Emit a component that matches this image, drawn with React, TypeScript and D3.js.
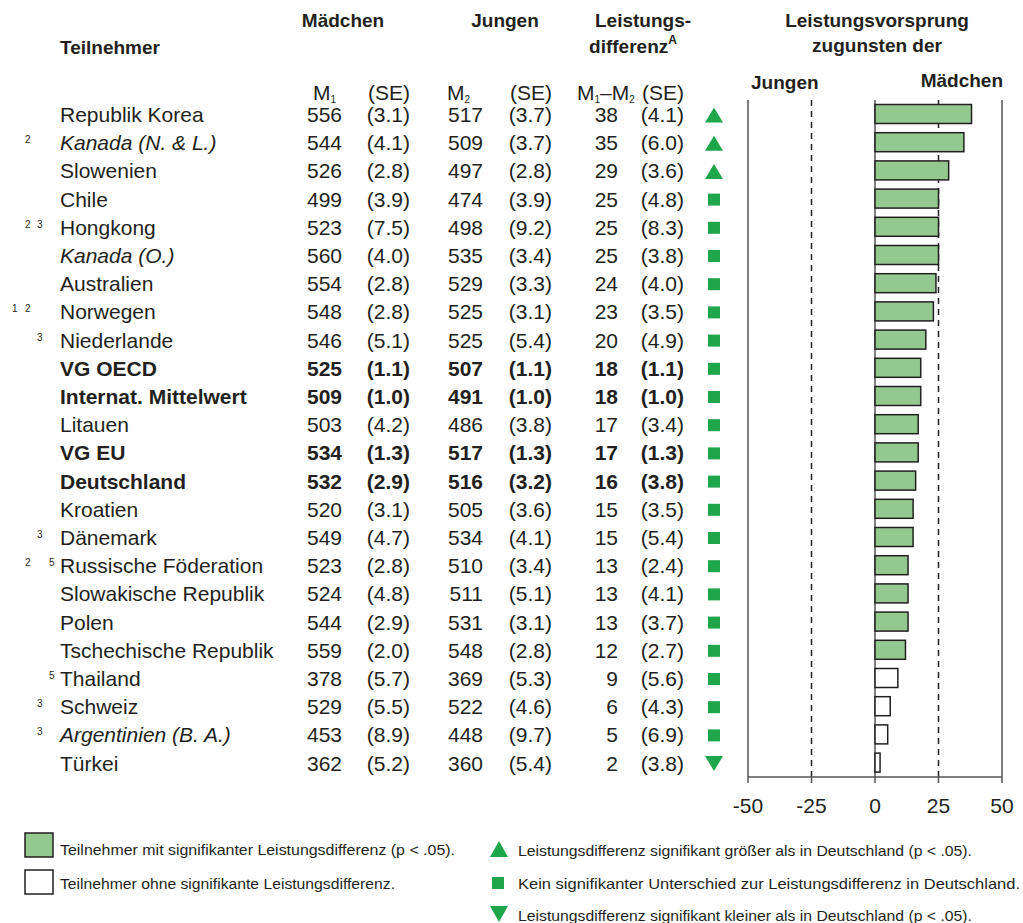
import React from "react";
import * as d3 from "d3";

const countries = [
  "Republik Korea", "Kanada (N. & L.)", "Slowenien", "Chile", "Hongkong", "Kanada (O.)",
  "Australien", "Norwegen", "Niederlande", "VG OECD", "Internat. Mittelwert", "Litauen",
  "VG EU", "Deutschland", "Kroatien", "Dänemark", "Russische Föderation",
  "Slowakische Republik", "Polen", "Tschechische Republik", "Thailand", "Schweiz",
  "Argentinien (B. A.)", "Türkei",
];
const footnotes = [
  [], [2], [], [], [2, 3], [], [], [1, 2], [3], [], [], [], [], [], [], [3], [2, 5], [], [], [], [5], [3], [3], [],
];
const italicRows = ["Kanada (N. & L.)", "Kanada (O.)", "Argentinien (B. A.)"];
const boldRows = ["VG OECD", "Internat. Mittelwert", "VG EU", "Deutschland"];
const girlsMean = [556, 544, 526, 499, 523, 560, 554, 548, 546, 525, 509, 503, 534, 532, 520, 549, 523, 524, 544, 559, 378, 529, 453, 362];
const girlsSE = ["3.1", "4.1", "2.8", "3.9", "7.5", "4.0", "2.8", "2.8", "5.1", "1.1", "1.0", "4.2", "1.3", "2.9", "3.1", "4.7", "2.8", "4.8", "2.9", "2.0", "5.7", "5.5", "8.9", "5.2"];
const boysMean = [517, 509, 497, 474, 498, 535, 529, 525, 525, 507, 491, 486, 517, 516, 505, 534, 510, 511, 531, 548, 369, 522, 448, 360];
const boysSE = ["3.7", "3.7", "2.8", "3.9", "9.2", "3.4", "3.3", "3.1", "5.4", "1.1", "1.0", "3.8", "1.3", "3.2", "3.6", "4.1", "3.4", "5.1", "3.1", "2.8", "5.3", "4.6", "9.7", "5.4"];
const diff = [38, 35, 29, 25, 25, 25, 24, 23, 20, 18, 18, 17, 17, 16, 15, 15, 13, 13, 13, 12, 9, 6, 5, 2];
const diffSE = ["4.1", "6.0", "3.6", "4.8", "8.3", "3.8", "4.0", "3.5", "4.9", "1.1", "1.0", "3.4", "1.3", "3.8", "3.5", "5.4", "2.4", "4.1", "3.7", "2.7", "5.6", "4.3", "6.9", "3.8"];
const significant = [true, true, true, true, true, true, true, true, true, true, true, true, true, true, true, true, true, true, true, true, false, false, false, false];
const comparison = ["up", "up", "up", "sq", "sq", "sq", "sq", "sq", "sq", "sq", "sq", "sq", "sq", "sq", "sq", "sq", "sq", "sq", "sq", "sq", "sq", "sq", "sq", "down"];
const xTicks = [-50, -25, 0, 25, 50];

const FONT = "'Liberation Sans', Arial, Helvetica, sans-serif";
const TEXT = "#231f20";
const GREEN = "#1fa64a";
const BARFILL = "#93c98f";
const FS = 21;

export default function App() {
  const x = d3.scaleLinear().domain([-50, 50]).range([748, 1002]);
  const y = d3.scalePoint<number>().domain(d3.range(countries.length)).range([114, 762.6]);
  const barH = 19;
  const top = 100;
  const axisY = 777;
  const fnX: Record<number, number> = { 1: 12, 2: 25, 3: 37, 4: 43, 5: 49 };

  const marker = (type: string, cx: number, cy: number, key: string, w = 18, h = 15) => {
    if (type === "up") {
      const p = d3.path();
      p.moveTo(cx - w / 2, cy + h / 2); p.lineTo(cx + w / 2, cy + h / 2); p.lineTo(cx, cy - h / 2); p.closePath();
      return <path key={key} d={p.toString()} fill={GREEN} />;
    }
    if (type === "down") {
      const p = d3.path();
      p.moveTo(cx - w / 2, cy - h / 2); p.lineTo(cx + w / 2, cy - h / 2); p.lineTo(cx, cy + h / 2); p.closePath();
      return <path key={key} d={p.toString()} fill={GREEN} />;
    }
    return <rect key={key} x={cx - 6} y={cy - 6} width={12} height={12} fill={GREEN} />;
  };

  return (
    <svg width={1023} height={923} style={{ position: "absolute", left: 0, top: 0, background: "#fff" }} fontFamily={FONT}>
      {/* Header */}
      <g fill={TEXT} fontWeight="bold" fontSize={19}>
        <text x={60} y={54}>Teilnehmer</text>
        <text x={343} y={27} textAnchor="middle">Mädchen</text>
        <text x={505} y={27} textAnchor="middle">Jungen</text>
        <text x={643} y={27} textAnchor="middle">Leistungs-</text>
        <text x={633} y={53} textAnchor="middle">differenz<tspan fontSize={12} dy={-9}>A</tspan></text>
        <text x={877} y={27} textAnchor="middle">Leistungsvorsprung</text>
        <text x={877} y={52} textAnchor="middle">zugunsten der</text>
        <text x={751} y={89}>Jungen</text>
        <text x={1003} y={87} textAnchor="end">Mädchen</text>
      </g>
      <g fill={TEXT} fontSize={FS}>
        <text x={313} y={100}>M<tspan fontSize={10} dy={3}>1</tspan></text>
        <text x={410} y={100} textAnchor="end">(SE)</text>
        <text x={447} y={100}>M<tspan fontSize={10} dy={3}>2</tspan></text>
        <text x={552} y={100} textAnchor="end">(SE)</text>
        <text x={577} y={100}>M<tspan fontSize={10} dy={3}>1</tspan><tspan dy={-3}>–M</tspan><tspan fontSize={10} dy={3}>2</tspan></text>
        <text x={684} y={100} textAnchor="end">(SE)</text>
      </g>

      {/* Rows */}
      {countries.map((c, i) => {
        const cy = y(i)!;
        const base = cy + 8;
        const bold = boldRows.includes(c);
        const ital = italicRows.includes(c);
        return (
          <g key={c} fill={TEXT} fontSize={FS} fontWeight={bold ? "bold" : "normal"}>
            {footnotes[i].map((f) => (
              <text key={f} x={fnX[f]} y={cy + 1} fontSize={10} fontWeight="normal">{f}</text>
            ))}
            <text x={60} y={base} fontStyle={ital ? "italic" : "normal"}>{c}</text>
            <text x={342} y={base} textAnchor="end">{girlsMean[i]}</text>
            <text x={410} y={base} textAnchor="end">({girlsSE[i]})</text>
            <text x={483} y={base} textAnchor="end">{boysMean[i]}</text>
            <text x={552} y={base} textAnchor="end">({boysSE[i]})</text>
            <text x={618} y={base} textAnchor="end">{diff[i]}</text>
            <text x={684} y={base} textAnchor="end">({diffSE[i]})</text>
            {marker(comparison[i], 714, cy + 1, "m" + i)}
          </g>
        );
      })}

      {/* Chart frame */}
      <g stroke="#555" strokeWidth={1.5} fill="none">
        <line x1={x(-50)} x2={x(-50)} y1={top} y2={axisY} />
        <line x1={x(50)} x2={x(50)} y1={top} y2={axisY} />
        <line x1={x(0)} x2={x(0)} y1={top} y2={axisY} />
        <line x1={x(-25)} x2={x(-25)} y1={top} y2={axisY} stroke="#222" strokeDasharray="6,5" />
        <line x1={x(25)} x2={x(25)} y1={top} y2={axisY} stroke="#222" strokeDasharray="6,5" />
        <line x1={x(-50)} x2={x(50)} y1={axisY} y2={axisY} />
        {xTicks.map((t) => (
          <line key={t} x1={x(t)} x2={x(t)} y1={axisY} y2={axisY + 6} />
        ))}
      </g>
      {xTicks.map((t) => (
        <text key={"l" + t} x={x(t)} y={813} textAnchor="middle" fontSize={FS} fill={TEXT}>{t}</text>
      ))}

      {/* Bars */}
      {countries.map((c, i) => (
        <rect key={"b" + c} x={x(Math.min(0, diff[i]))} y={y(i)! - barH / 2}
          width={Math.abs(x(diff[i]) - x(0))} height={barH}
          fill={significant[i] ? BARFILL : "#fff"} stroke="#231f20" strokeWidth={1.5} />
      ))}

      {/* Legend */}
      <g fontSize={15} fill={TEXT}>
        <rect x={25} y={833} width={28} height={24} fill={BARFILL} stroke="#231f20" strokeWidth={1.5} />
        <text x={60} y={855} textLength={395} lengthAdjust="spacingAndGlyphs">Teilnehmer mit signifikanter Leistungsdifferenz  (p &lt; .05).</text>
        <rect x={25} y={870} width={28} height={24} fill="#fff" stroke="#231f20" strokeWidth={1.5} />
        <text x={60} y={889} textLength={335} lengthAdjust="spacingAndGlyphs">Teilnehmer ohne signifikante Leistungsdifferenz.</text>
        {marker("up", 499, 849, "lu", 18, 16)}
        <text x={518} y={856} textLength={454} lengthAdjust="spacingAndGlyphs">Leistungsdifferenz signifikant größer als in Deutschland (p &lt; .05).</text>
        {marker("sq", 498, 883, "ls")}
        <text x={518} y={889} textLength={502} lengthAdjust="spacingAndGlyphs">Kein signifikanter Unterschied zur Leistungsdifferenz in Deutschland.</text>
        {marker("down", 499, 914, "ld", 18, 16)}
        <text x={518} y={921} textLength={454} lengthAdjust="spacingAndGlyphs">Leistungsdifferenz signifikant kleiner als in Deutschland (p &lt; .05).</text>
      </g>
    </svg>
  );
}
